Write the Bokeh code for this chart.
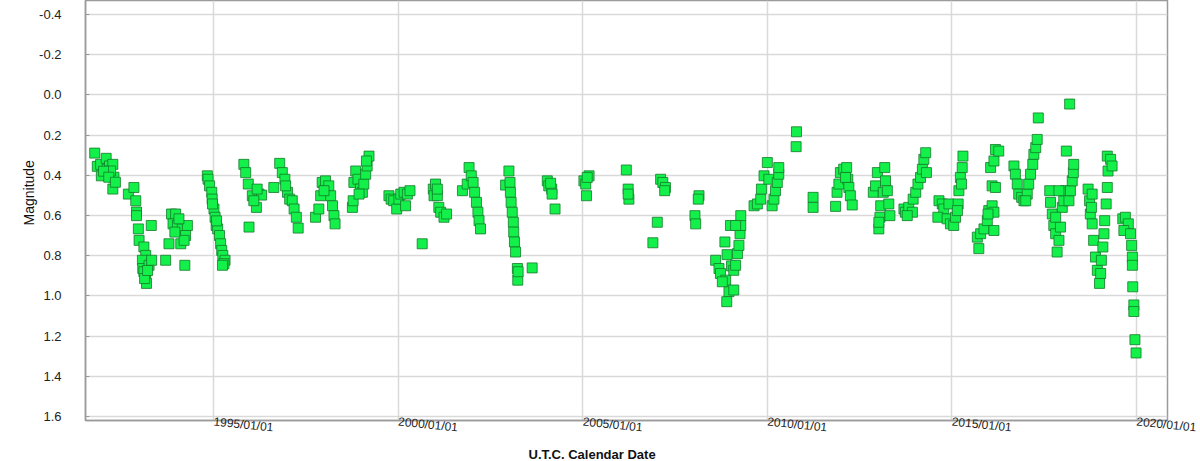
from datetime import datetime
from bokeh.plotting import figure
from bokeh.models import Range1d, FixedTicker, DatetimeTickFormatter, PrintfTickFormatter, Title, ColumnDataSource
from bokeh.embed import file_html
from bokeh.resources import INLINE

# ---- data (decimal year, V magnitude) ----
years_1991_2000 = [
    1991.78, 1991.85, 1991.94, 1991.96, 1992.09, 1992.12, 1992.18, 1992.27, 1992.30, 1992.27, 1992.21, 1992.02, 1992.16, 1992.34,
    1992.69, 1992.84, 1992.89, 1992.91, 1992.91, 1992.96, 1992.98, 1993.11, 1993.16, 1993.07, 1993.08, 1993.16, 1993.18, 1993.25,
    1993.32, 1993.31, 1993.11, 1993.70, 1994.22, 1993.79, 1993.13, 1993.21,
    1993.86, 1993.97, 1993.90, 1994.02, 1994.15, 1994.29, 1994.24, 1994.11, 1994.20, 1993.95, 1994.06,
    1994.83, 1994.85, 1994.89, 1994.95, 1994.96, 1995.01, 1995.04, 1995.07, 1995.11, 1995.16, 1995.19, 1995.22, 1995.25, 1995.31,
    1995.28, 1995.24, 1994.97, 1995.08,
    1995.82, 1995.87, 1995.94, 1996.05, 1996.16, 1996.23, 1996.30, 1996.63, 1995.96, 1996.09, 1996.18,
    1996.79, 1996.86, 1996.93, 1997.00, 1997.06, 1997.13, 1997.18, 1997.24, 1997.29, 1996.95,
    1997.76, 1997.85, 1997.90, 1997.94, 1998.03, 1998.12, 1998.17, 1998.22, 1998.26, 1998.29, 1997.99,
    1998.76, 1998.78, 1998.80, 1998.85, 1998.91, 1998.98, 1999.03, 1999.07, 1999.12, 1999.16, 1999.21, 1999.14, 1998.94,
    1999.75, 1999.81, 1999.88, 1999.96, 2000.02, 2000.07, 2000.16, 2000.25, 2000.32, 2000.20, 2000.65,
]
mags_1991_2000 = [
    0.29, 0.356, 0.346, 0.403, 0.316, 0.37, 0.354, 0.346, 0.41, 0.469, 0.379, 0.38, 0.41, 0.435,
    0.494, 0.461, 0.527, 0.583, 0.601, 0.667, 0.724, 0.757, 0.799, 0.823, 0.864, 0.897, 0.938, 0.848,
    0.823, 0.65, 0.88, 0.823, 0.848, 0.741, 0.914, 0.874,
    0.593, 0.593, 0.642, 0.65, 0.667, 0.65, 0.70, 0.741, 0.724, 0.683, 0.617,
    0.403, 0.42, 0.453, 0.485, 0.519, 0.568, 0.609, 0.65, 0.667, 0.70, 0.741, 0.774, 0.799, 0.823,
    0.84, 0.848, 0.543, 0.627,
    0.346, 0.387, 0.444, 0.502, 0.56, 0.494, 0.499, 0.461, 0.658, 0.527, 0.469,
    0.341, 0.387, 0.42, 0.485, 0.519, 0.527, 0.568, 0.609, 0.663, 0.453,
    0.609, 0.568, 0.502, 0.436, 0.428, 0.453, 0.502, 0.552, 0.601, 0.642, 0.477,
    0.56, 0.527, 0.436, 0.379, 0.42, 0.469, 0.485, 0.444, 0.395, 0.354, 0.305, 0.329, 0.494,
    0.502, 0.519, 0.527, 0.568, 0.519, 0.494, 0.485, 0.494, 0.477, 0.552, 0.741,
]

years_2000_2010 = [
    2000.95, 2000.97, 2001.01, 2001.06, 2001.10, 2001.15, 2001.24, 2001.31, 2001.06,
    2001.74, 2001.87, 2001.92, 2001.98, 2002.03, 2002.07, 2002.12, 2002.16, 2002.19, 2002.23,
    2002.91, 2003.00, 2003.03, 2003.04, 2003.06, 2003.09, 2003.12, 2003.13, 2003.15, 2003.18, 2003.23, 2003.24, 2003.25, 2003.63,
    2004.04, 2004.08, 2004.16, 2004.17, 2004.25, 2004.13,
    2005.03, 2005.08, 2005.17, 2005.10, 2005.12,
    2006.18, 2006.23, 2006.25, 2006.23,
    2007.11, 2007.17, 2007.24, 2007.22, 2007.02, 2006.90,
    2008.15, 2008.13, 2008.04, 2008.06,
    2009.00, 2008.85, 2008.91, 2008.60, 2008.69, 2008.73, 2008.87, 2008.96, 2008.90, 2009.03, 2008.78, 2009.09, 2009.09,
    2009.14, 2009.19, 2009.23, 2009.26, 2009.28, 2009.28, 2009.14,
    2009.64, 2009.73, 2009.82, 2009.84, 2009.91, 2010.00, 2010.04, 2010.13, 2010.18, 2010.22, 2010.27, 2010.31, 2010.31,
    2010.79, 2010.78,
]
mags_2000_2010 = [
    0.469, 0.502, 0.444, 0.502, 0.56, 0.584, 0.609, 0.593, 0.469,
    0.477, 0.444, 0.362, 0.403, 0.436, 0.485, 0.535, 0.584, 0.626, 0.667,
    0.449, 0.379, 0.436, 0.485, 0.535, 0.584, 0.634, 0.683, 0.732, 0.782, 0.864, 0.922, 0.88, 0.861,
    0.428, 0.453, 0.469, 0.494, 0.568, 0.44,
    0.428, 0.444, 0.403, 0.502, 0.411,
    0.374, 0.469, 0.519, 0.494,
    0.42, 0.436, 0.461, 0.477, 0.634, 0.736,
    0.502, 0.519, 0.601, 0.642,
    0.65, 0.732, 0.795, 0.823, 0.864, 0.889, 0.922, 0.979, 1.029, 0.851, 0.93, 0.971, 0.873,
    0.848, 0.79, 0.749, 0.691, 0.65, 0.601, 0.65,
    0.552, 0.543, 0.519, 0.469, 0.403, 0.337, 0.42, 0.552, 0.519, 0.477, 0.436, 0.395, 0.362,
    0.184, 0.258,
]

years_2011_2020 = [
    2011.24, 2011.24,
    2011.85, 2011.89, 2011.94, 2011.98, 2012.07, 2012.15, 2012.18, 2012.21, 2012.25, 2012.30, 2012.12,
    2012.87, 2012.93, 2012.98, 2013.02, 2013.05, 2013.07, 2013.14, 2013.18, 2013.20, 2013.25, 2013.29, 2013.32, 2013.02,
    2013.70, 2013.74, 2013.83, 2013.93, 2013.95, 2014.02, 2014.08, 2014.15, 2014.20, 2014.24, 2014.29, 2014.31, 2013.79,
    2014.65, 2014.74, 2014.78, 2014.62, 2014.87, 2014.92, 2014.96, 2015.05, 2015.10, 2015.17, 2015.19, 2015.23, 2015.28,
    2015.30, 2015.15, 2015.26,
    2015.69, 2015.73, 2015.78, 2015.87, 2015.96, 2016.00, 2016.09, 2016.14, 2016.14, 2016.09, 2016.18, 2016.05, 2016.14,
    2016.18, 2016.27, 2015.98,
    2016.68, 2016.72, 2016.77, 2016.81, 2016.89, 2016.95, 2017.04, 2017.08, 2017.13, 2017.19, 2017.22, 2017.27, 2017.31,
    2017.34, 2017.00, 2018.19,
    2017.65, 2017.67, 2017.72, 2017.76, 2017.81, 2017.85, 2017.90, 2017.94, 2017.99, 2018.03, 2018.08, 2018.17, 2018.21,
    2018.26, 2018.29, 2018.30, 2018.10, 2017.90, 2017.81,
    2018.69, 2018.73, 2018.75, 2018.80, 2018.84, 2018.89, 2018.94, 2019.00, 2019.03, 2019.05, 2019.09, 2019.12, 2019.14,
    2019.18, 2019.21, 2019.23, 2019.21, 2019.30, 2019.34, 2018.80, 2018.78,
    2019.63, 2019.70, 2019.78, 2019.66, 2019.84, 2019.87, 2019.89, 2019.89, 2019.90, 2019.93, 2019.93, 2019.96, 2019.99,
]
mags_2011_2020 = [
    0.51, 0.56,
    0.555, 0.485, 0.444, 0.387, 0.37, 0.362, 0.42, 0.461, 0.502, 0.548, 0.411,
    0.485, 0.453, 0.387, 0.667, 0.609, 0.552, 0.485, 0.362, 0.428, 0.477, 0.543, 0.601, 0.634,
    0.568, 0.584, 0.56, 0.584, 0.519, 0.485, 0.444, 0.411, 0.37, 0.321, 0.288, 0.387, 0.601,
    0.527, 0.543, 0.568, 0.609, 0.617, 0.543, 0.642, 0.65, 0.609, 0.543, 0.477, 0.411, 0.362,
    0.305, 0.576, 0.444,
    0.708, 0.765, 0.691, 0.667, 0.626, 0.576, 0.552, 0.675, 0.584, 0.453, 0.461, 0.362, 0.329,
    0.272, 0.28, 0.593,
    0.354, 0.395, 0.444, 0.494, 0.51, 0.527, 0.494, 0.444, 0.395, 0.346, 0.296, 0.263, 0.222,
    0.115, 0.527, 0.046,
    0.477, 0.535, 0.593, 0.65, 0.691, 0.782, 0.724, 0.658, 0.56, 0.527, 0.477, 0.527, 0.477,
    0.428, 0.387, 0.346, 0.28, 0.477, 0.609,
    0.469, 0.527, 0.593, 0.642, 0.724, 0.807, 0.873, 0.938, 0.889, 0.823, 0.757, 0.691, 0.626,
    0.543, 0.461, 0.379, 0.305, 0.321, 0.354, 0.494, 0.56,
    0.617, 0.609, 0.642, 0.675, 0.691, 0.749, 0.807, 0.848, 0.955, 1.045, 1.078, 1.218, 1.284,
]

x_tick_dates = ["1995/01/01", "2000/01/01", "2005/01/01", "2010/01/01", "2015/01/01", "2020/01/01"]
y_ticks = [-0.4, -0.2, 0.0, 0.2, 0.4, 0.6, 0.8, 1.0, 1.2, 1.4, 1.6]
x_start_year, x_end_year = 1991.53, 2020.84
y_top, y_bottom = -0.469, 1.62

EPOCH = datetime(1970, 1, 1)


def to_dt(y):
    yi = int(y)
    a, b = datetime(yi, 1, 1), datetime(yi + 1, 1, 1)
    return a + (b - a) * (y - yi)


def to_ms(d):
    return (d - EPOCH).total_seconds() * 1000.0


years = years_1991_2000 + years_2000_2010 + years_2011_2020
mags = mags_1991_2000 + mags_2000_2010 + mags_2011_2020
src = ColumnDataSource(dict(t=[to_dt(y) for y in years], m=mags))

FONT = "Liberation Sans"
AXIS_GREY = "#9a9a9a"

p = figure(
    width=1200, height=461,
    x_axis_type="datetime",
    x_range=Range1d(to_dt(x_start_year), to_dt(x_end_year)),
    y_range=Range1d(y_bottom, y_top),
    output_backend="svg", toolbar_location=None,
    min_border_left=85, min_border_right=33, min_border_top=0, min_border_bottom=36,
    background_fill_color="white", border_fill_color="white",
    outline_line_color=AXIS_GREY, outline_line_width=1.5,
)

p.scatter("t", "m", source=src, marker="square", size=10,
          fill_color="#14f04a", line_color="#137a2a", line_width=0.8)

xt = FixedTicker(ticks=[to_ms(datetime.strptime(s, "%Y/%m/%d")) for s in x_tick_dates])
p.xaxis.ticker = xt
fmt = "%Y/%m/%d"
p.xaxis.formatter = DatetimeTickFormatter(years=fmt, months=fmt, days=fmt, hours=fmt,
                                          hourmin=fmt, minutes=fmt, minsec=fmt, seconds=fmt,
                                          milliseconds=fmt, microseconds=fmt)
p.xaxis.major_label_orientation = -0.1
p.xaxis.major_label_text_font = FONT
p.xaxis.major_label_text_font_size = "12px"
p.xaxis.major_label_text_color = "#222222"
p.xaxis.major_label_standoff = 1
p.xaxis.major_tick_in = 0
p.xaxis.major_tick_out = 0
p.xaxis.minor_tick_line_color = None
p.xaxis.axis_line_color = AXIS_GREY
p.xaxis.axis_line_width = 1.5

p.yaxis.ticker = FixedTicker(ticks=y_ticks)
p.yaxis.formatter = PrintfTickFormatter(format="%.1f")
p.yaxis.major_label_text_font = FONT
p.yaxis.major_label_text_font_size = "13px"
p.yaxis.major_label_text_color = "#222222"
p.yaxis.major_label_standoff = 24
p.yaxis.major_tick_in = 4
p.yaxis.major_tick_out = 0
p.yaxis.major_tick_line_color = AXIS_GREY
p.yaxis.minor_tick_line_color = None
p.yaxis.axis_line_color = AXIS_GREY
p.yaxis.axis_line_width = 1.5

p.grid.grid_line_color = "#d9d9d9"
p.grid.grid_line_width = 1.5

# axis titles as side titles, offset to sit where the reference has them
p.add_layout(Title(text="U.T.C. Calendar Date", align="left", offset=443,
                   text_font=FONT, text_font_size="13px", text_font_style="bold",
                   text_color="#111111", standoff=0), "below")
p.add_layout(Title(text="Magnitude", align="left", offset=195,
                   text_font=FONT, text_font_size="14px", text_font_style="normal",
                   text_color="#111111", standoff=0), "left")

open("out.html", "w").write(file_html(p, INLINE))
